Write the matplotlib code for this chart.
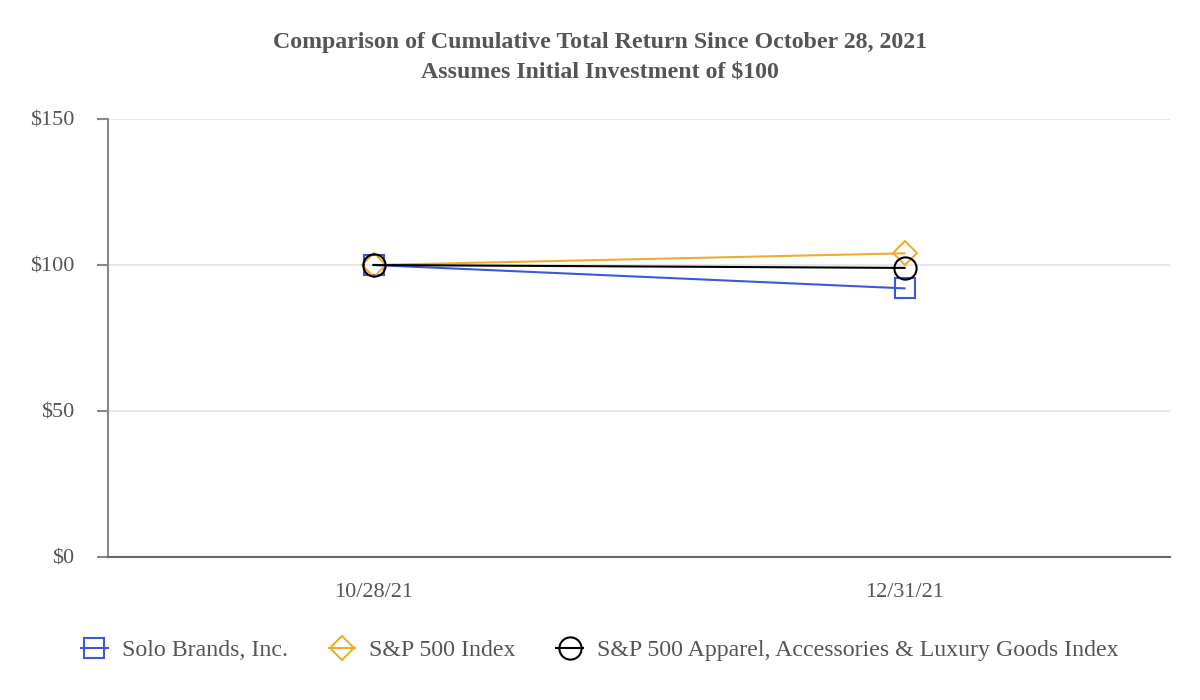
import matplotlib
matplotlib.use("Agg")
import matplotlib.pyplot as plt

# Cumulative total return data
dates = ["10/28/21", "12/31/21"]
solo = [100, 92]
sp500 = [100, 104]
apparel = [100, 99]

names = ["Solo Brands, Inc.", "S&P 500 Index",
         "S&P 500 Apparel, Accessories & Luxury Goods Index"]
colors = ["#3d57d8", "#efad2e", "#000000"]
markers = ["s", "D", "o"]
msizes = [15, 12, 16]

text_col = "#555555"
plt.rcParams["font.family"] = ["Liberation Serif", "DejaVu Serif"]

fig = plt.figure(figsize=(12, 7), dpi=100)
ax = fig.add_axes([0.09, 0.2043, 0.885, 0.6257])

x = list(range(len(dates)))
for vals, name, c, m, ms in zip([solo, sp500, apparel], names, colors, markers, msizes):
    ax.plot(x, vals, color=c, lw=1.5, marker=m, markersize=ms,
            markerfacecolor="none", markeredgecolor=c, markeredgewidth=1.5, label=name)

ax.set_xlim(-0.5, 1.5)
ax.set_ylim(0, 150)
ax.set_yticks([0, 50, 100, 150])
ax.set_yticklabels(["$0", "$50", "$100", "$150"])
ax.set_xticks(x)
ax.set_xticklabels(dates)
ax.yaxis.grid(True, color="#e3e3e3", lw=1.2)
ax.set_axisbelow(True)

for s in ["top", "right"]:
    ax.spines[s].set_visible(False)
ax.spines["left"].set_color("#888888")
ax.spines["left"].set_linewidth(1.5)
ax.spines["bottom"].set_color("#666666")
ax.spines["bottom"].set_linewidth(1.5)
ax.tick_params(axis="y", length=8, width=1.5, color="#888888", labelcolor=text_col,
               labelsize=16, pad=16)
ax.tick_params(axis="x", length=0, labelcolor=text_col, labelsize=16, pad=19)

fig.text(0.5, 0.918, "Comparison of Cumulative Total Return Since October 28, 2021\n"
         "Assumes Initial Investment of $100", ha="center", va="center",
         fontsize=17.2, fontweight="bold", color=text_col, linespacing=1.5)

leg = fig.legend(loc="center", bbox_to_anchor=(0.5, 0.071), ncol=3, frameon=False,
                 fontsize=17.2, labelcolor=text_col, handlelength=1.1, columnspacing=1.7,
                 handletextpad=0.6)

fig.savefig("out.png", dpi=100)
